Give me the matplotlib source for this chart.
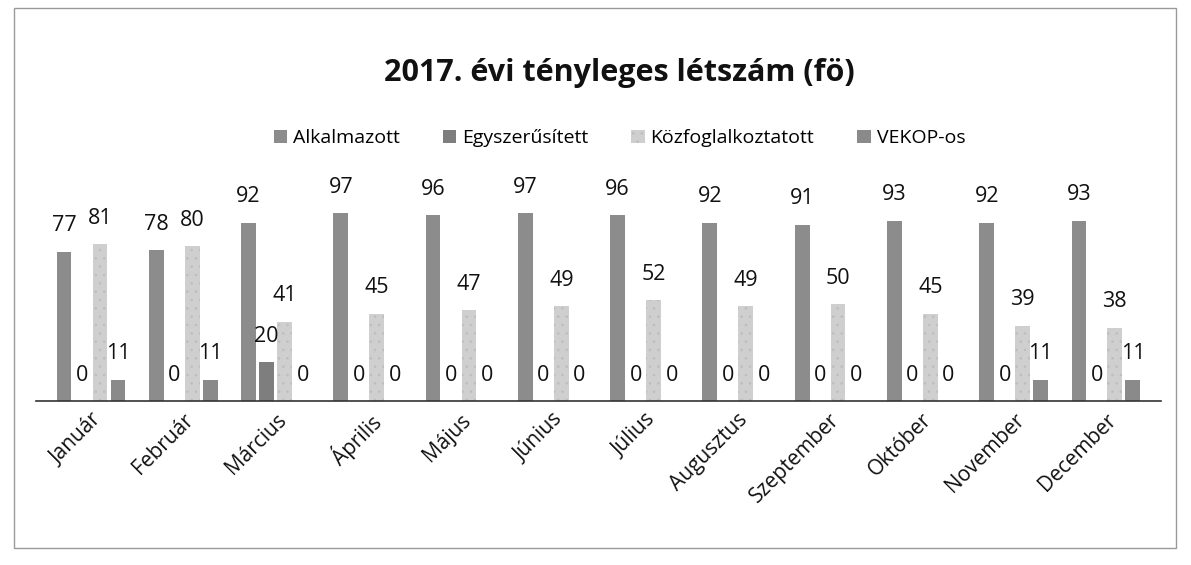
import numpy as np
import matplotlib.pyplot as plt
from matplotlib.patches import Rectangle

# Adatok
honapok = ['Január', 'Február', 'Március', 'Április', 'Május', 'Június',
           'Július', 'Augusztus', 'Szeptember', 'Október', 'November', 'December']
alkalmazott = [77, 78, 92, 97, 96, 97, 96, 92, 91, 93, 92, 93]
egyszerusitett = [0, 0, 20, 0, 0, 0, 0, 0, 0, 0, 0, 0]
kozfoglalkoztatott = [81, 80, 41, 45, 47, 49, 52, 49, 50, 45, 39, 38]
vekop = [11, 11, 0, 0, 0, 0, 0, 0, 0, 0, 11, 11]

sorozatok = [
    ('Alkalmazott', alkalmazott, '#8c8c8c', None),
    ('Egyszerűsített', egyszerusitett, '#7e7e7e', None),
    ('Közfoglalkoztatott', kozfoglalkoztatott, '#cfcfcf', '..'),
    ('VEKOP-os', vekop, '#8a8a8a', None),
]

plt.rcParams['font.family'] = ['Open Sans', 'DejaVu Sans']
plt.rcParams['hatch.color'] = '#555555'
plt.rcParams['hatch.linewidth'] = 0.6

fig = plt.figure(figsize=(11.91, 5.65), dpi=100)
ax = fig.add_axes([0.03, 0.29, 0.945, 0.36])

x = np.arange(len(honapok))
w = 0.16
step = 0.195
for i, (nev, ertekek, szin, minta) in enumerate(sorozatok):
    pos = x + (i - 1.5) * step
    ax.bar(pos, ertekek, width=w, color=szin, hatch=minta,
           edgecolor=szin if minta is None else '#bdbdbd', linewidth=0, label=nev)
    for p, v in zip(pos, ertekek):
        ax.text(p, v + 8, str(v), ha='center', va='bottom', fontsize=15.5, color='#111111')

ax.set_xlim(-0.6, len(honapok) - 0.4)
ax.set_ylim(0, 105)
ax.set_yticks([])
for s in ['top', 'right', 'left']:
    ax.spines[s].set_visible(False)
ax.spines['bottom'].set_color('#333333')
ax.spines['bottom'].set_linewidth(1.2)
ax.tick_params(axis='x', length=0, pad=6)
ax.set_xticks(x)
ax.set_xticklabels(honapok, rotation=45, ha='right', rotation_mode='anchor',
                   fontsize=15, color='#111111')

fig.text(0.52, 0.87, '2017. évi tényleges létszám (fö)', ha='center', va='center',
         fontsize=22, fontweight='bold', color='#111111')
fig.legend(loc='center', bbox_to_anchor=(0.52, 0.755), ncol=4, frameon=False,
           fontsize=14, handlelength=0.7, handleheight=0.7, handletextpad=0.3,
           columnspacing=2.2)

fig.patches.append(Rectangle((0.012, 0.03), 0.975, 0.955, transform=fig.transFigure,
                             fill=False, edgecolor='#9a9a9a', linewidth=1))

fig.savefig('out.png', dpi=100)
